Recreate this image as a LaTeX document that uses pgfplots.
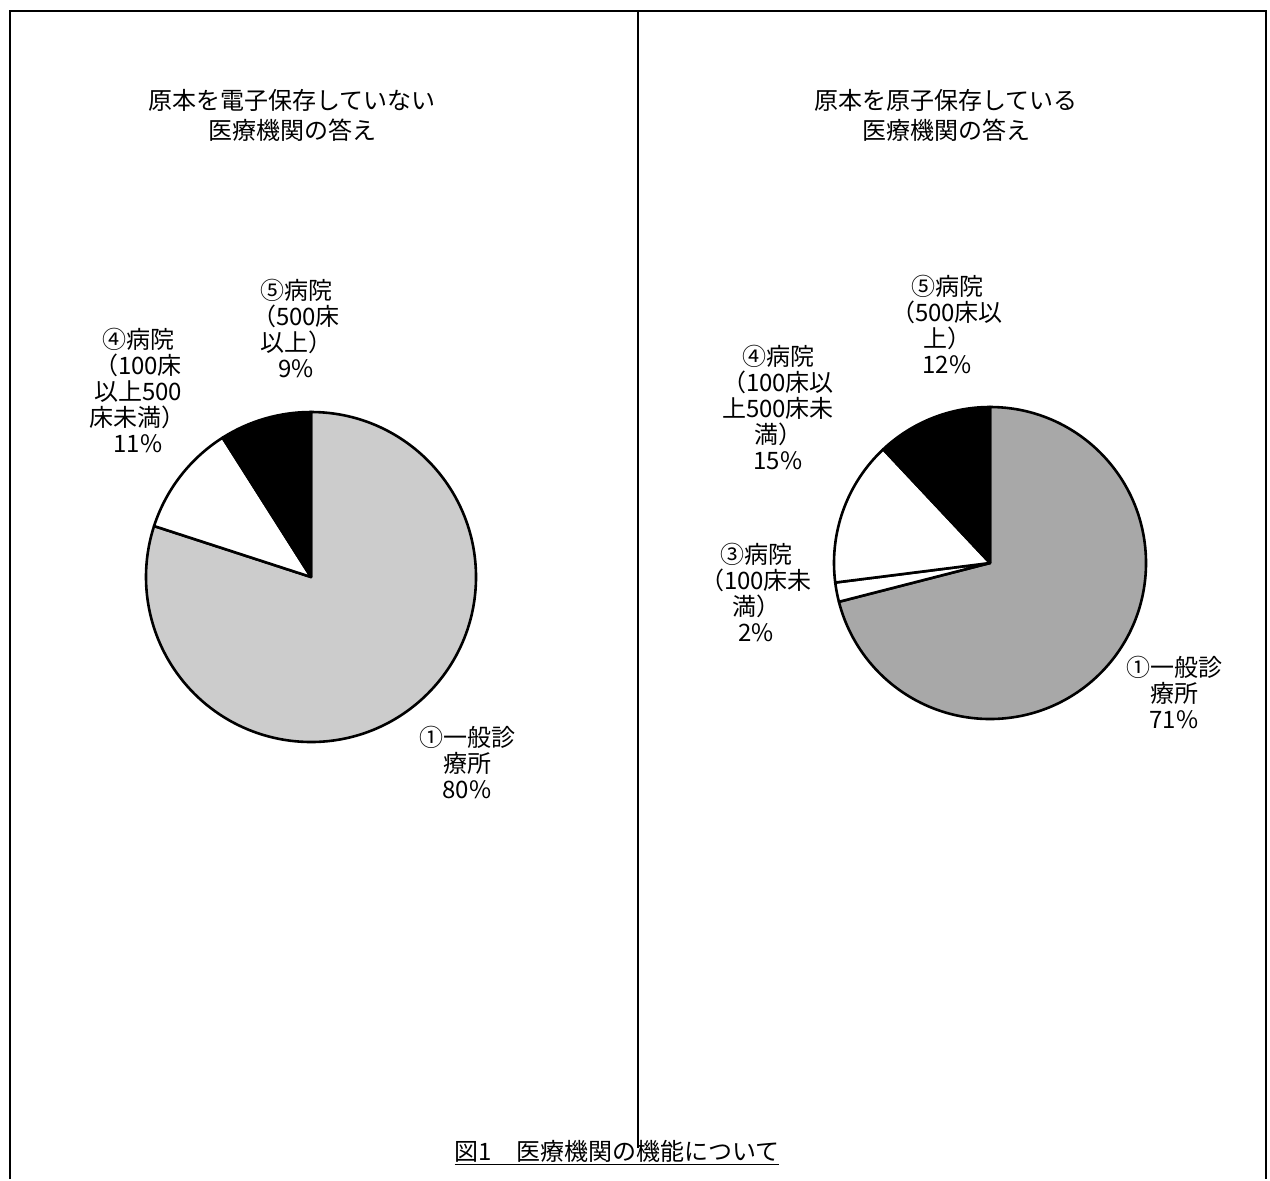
\documentclass[border=0pt]{standalone}
\usepackage{pgfplots}
\pgfplotsset{compat=1.18}
\usepackage{fontspec}
\setmainfont{Noto Sans CJK JP}
\definecolor{pieL}{gray}{0.80}
\definecolor{pieR}{gray}{0.66}
\newcommand{\pie}[4]{% cx, cy, radius (pt), list start/end/colour (cumulative %)
  \foreach \s/\e/\c in {#4}{%
    \pgfmathsetmacro{\sa}{90-3.6*\s}%
    \pgfmathsetmacro{\ea}{90-3.6*\e}%
    \edef\tmp{\noexpand\filldraw[fill=\c, draw=black, line width=1.3pt, line join=round]
      (axis cs:#1,#2) -- ++(\sa:#3) arc[start angle=\sa, end angle=\ea, radius=#3] -- cycle;}%
    \tmp
  }%
}
\tikzset{lbl/.style={font=\fontsize{12}{13}\selectfont, inner sep=0pt, align=center},
         ttl/.style={font=\fontsize{12}{15}\selectfont, inner sep=0pt, align=center}}
\begin{document}
\begin{tikzpicture}
\begin{axis}[
  x=0.5pt, y=0.5pt, scale only axis,
  xmin=0, xmax=1270, ymin=0, ymax=1179, y dir=reverse,
  hide axis, clip=false,
]
\path (axis cs:0,0) rectangle (axis cs:1270,1179);
% frame
\draw[line width=1.2pt] (axis cs:10,1179) -- (axis cs:10,11) -- (axis cs:1266,11) -- (axis cs:1266,1179);
\draw[line width=1.2pt] (axis cs:638,11) -- (axis cs:638,1148);
% titles
\node[ttl] at (axis cs:292,115) {原本を電子保存していない\\医療機関の答え};
\node[ttl] at (axis cs:946,115) {原本を原子保存している\\医療機関の答え};
% left pie: (1) 80, (4) 11, (5) 9
\pie{311}{577}{82.5pt}{0/80/pieL, 80/91/white, 91/100/black}
% right pie: (1) 71, (3) 2, (4) 15, (5) 12
\pie{990}{563}{78pt}{0/71/pieR, 71/73/white, 73/88/white, 88/100/black}
% left labels
\node[lbl] at (axis cs:296,328) {⑤病院\\（500床\\以上）\\9\%};
\node[lbl] at (axis cs:138,390) {④病院\\（100床\\以上500\\床未満）\\11\%};
\node[lbl] at (axis cs:467,762) {①一般診\\療所\\80\%};
% right labels
\node[lbl] at (axis cs:947,324) {⑤病院\\（500床以\\上）\\12\%};
\node[lbl] at (axis cs:778,407) {④病院\\（100床以\\上500床未\\満）\\15\%};
\node[lbl] at (axis cs:756,592) {③病院\\（100床未\\満）\\2\%};
\node[lbl] at (axis cs:1174,692) {①一般診\\療所\\71\%};
% caption
\node[lbl] at (axis cs:617,1153) {\underline{図1　医療機関の機能について}};
\end{axis}
\end{tikzpicture}
\end{document}
